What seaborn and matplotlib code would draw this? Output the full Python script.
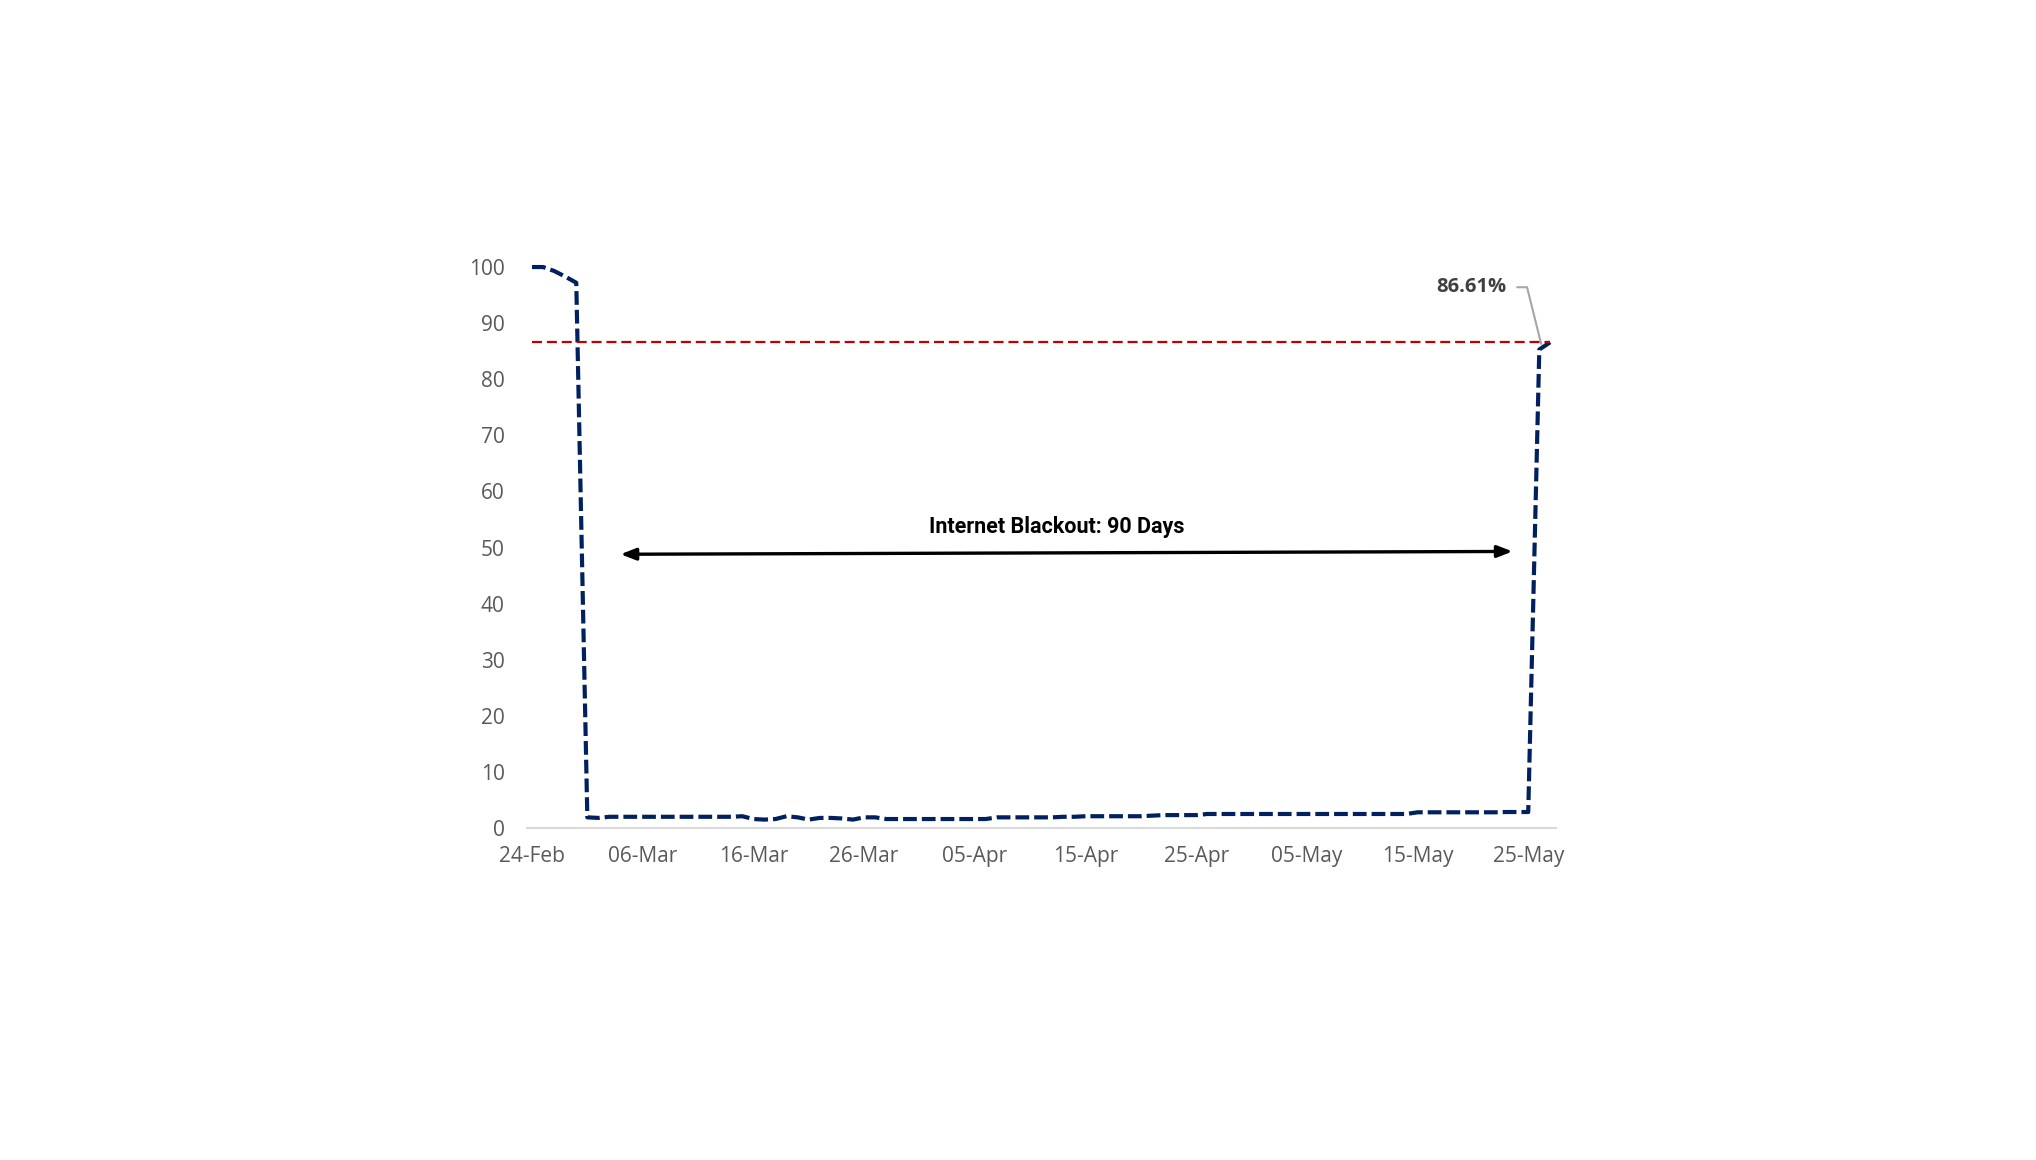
import pandas as pd
import numpy as np
import matplotlib.pyplot as plt
import matplotlib.dates as mdates
import seaborn as sns

sns.set_style("white")
plt.rcParams['font.family'] = ['Open Sans', 'DejaVu Sans']

# === Data: daily connectivity (% of normal), 24-Feb to 27-May 2025 ===
dates = pd.date_range("2025-02-24", "2025-05-27", freq="D")
connectivity = [
    100.0, 100.0, 99.3, 98.3, 97.2,                      # 24-28 Feb
    1.9, 1.8, 2.0, 2.0, 2.0, 2.0, 2.0, 2.0, 2.0, 2.0,    # 01-10 Mar
    2.0, 2.0, 2.0, 2.0, 2.1, 1.6, 1.5, 1.6, 2.1, 1.9,    # 11-20 Mar
    1.5, 1.8, 1.8, 1.7, 1.5, 1.9, 1.9, 1.6, 1.6, 1.6,    # 21-30 Mar
    1.6, 1.6, 1.6, 1.6, 1.6, 1.6, 1.6, 1.9, 1.9, 1.9,    # 31 Mar-09 Apr
    1.9, 1.9, 1.9, 2.0, 2.0, 2.1, 2.1, 2.1, 2.1, 2.1,    # 10-19 Apr
    2.1, 2.2, 2.3, 2.3, 2.3, 2.3, 2.5, 2.5, 2.5, 2.5,    # 20-29 Apr
    2.5, 2.5, 2.5, 2.5, 2.5, 2.5, 2.5, 2.5, 2.5, 2.5,    # 30 Apr-09 May
    2.5, 2.5, 2.5, 2.5, 2.5, 2.8, 2.8, 2.8, 2.8, 2.8,    # 10-19 May
    2.8, 2.8, 2.8, 2.85, 2.85, 2.85,                     # 20-25 May
    85.3, 86.61,                                         # 26-27 May
]
df = pd.DataFrame({"date": dates, "connectivity": connectivity})

threshold = 86.61
blackout_start = pd.Timestamp("2025-03-04")
blackout_end = pd.Timestamp("2025-05-23 14:00")
tick_dates = pd.date_range("2025-02-24", "2025-05-25", freq="10D")

# === Figure ===
fig = plt.figure(figsize=(20.36, 11.6), dpi=100)
ax = fig.add_axes([0.2588, 0.2862, 0.5054, 0.4836])

sns.lineplot(data=df, x="date", y="connectivity", ax=ax, color="#002060",
             linewidth=3, linestyle=(0, (3.3, 1.2)), clip_on=False)

# red reference line at the recovery level
ax.hlines(threshold, dates[0], dates[-1], colors="#c00000",
          linewidth=1.6, linestyles=(0, (4.5, 2.2)), zorder=3)

# recovery label with leader line
label_y = 96.4
ax.text(pd.Timestamp("2025-05-19 20:00"), label_y, f"{threshold:.2f}%",
        ha="center", va="center", fontsize=14.5, fontweight="bold",
        color="#404040")
ax.annotate("", xy=(dates[-2] + pd.Timedelta(hours=4), threshold - 0.3),
            xytext=(pd.Timestamp("2025-05-24"), label_y),
            arrowprops=dict(arrowstyle="-", color="#a6a6a6", lw=1.5,
                            shrinkA=0, shrinkB=0,
                            connectionstyle="angle,angleA=0,angleB=104,rad=0"))

# blackout arrow
ax.annotate("", xy=(blackout_end, 49.3), xytext=(blackout_start, 48.8),
            arrowprops=dict(arrowstyle="<|-|>,head_length=0.9,head_width=0.35",
                            color="black", lw=2.4, shrinkA=0, shrinkB=0))
ax.text(pd.Timestamp("2025-04-12 10:00"), 53.6, "Internet Blackout: 90 Days",
        ha="center", va="center", fontsize=15.5, fontweight="bold", color="black",
        family=["Roboto", "DejaVu Sans"])

# axes styling
ax.set_xlim(dates[0] - pd.Timedelta(hours=11), dates[0] + pd.Timedelta(days=92.5))
ax.set_ylim(0, 100)
ax.set_yticks(np.arange(0, 101, 10))
ax.set_xticks(tick_dates)
ax.xaxis.set_major_formatter(mdates.DateFormatter("%d-%b"))
ax.tick_params(axis="both", length=0, labelsize=15, labelcolor="#595959")
ax.tick_params(axis="y", pad=16)
ax.tick_params(axis="x", pad=13)
ax.set_xlabel("")
ax.set_ylabel("")
for side in ["top", "right", "left"]:
    ax.spines[side].set_visible(False)
ax.spines["bottom"].set_color("#d9d9d9")
ax.spines["bottom"].set_linewidth(1.5)
ax.grid(False)

fig.savefig("out.png", dpi=100, facecolor="white")
